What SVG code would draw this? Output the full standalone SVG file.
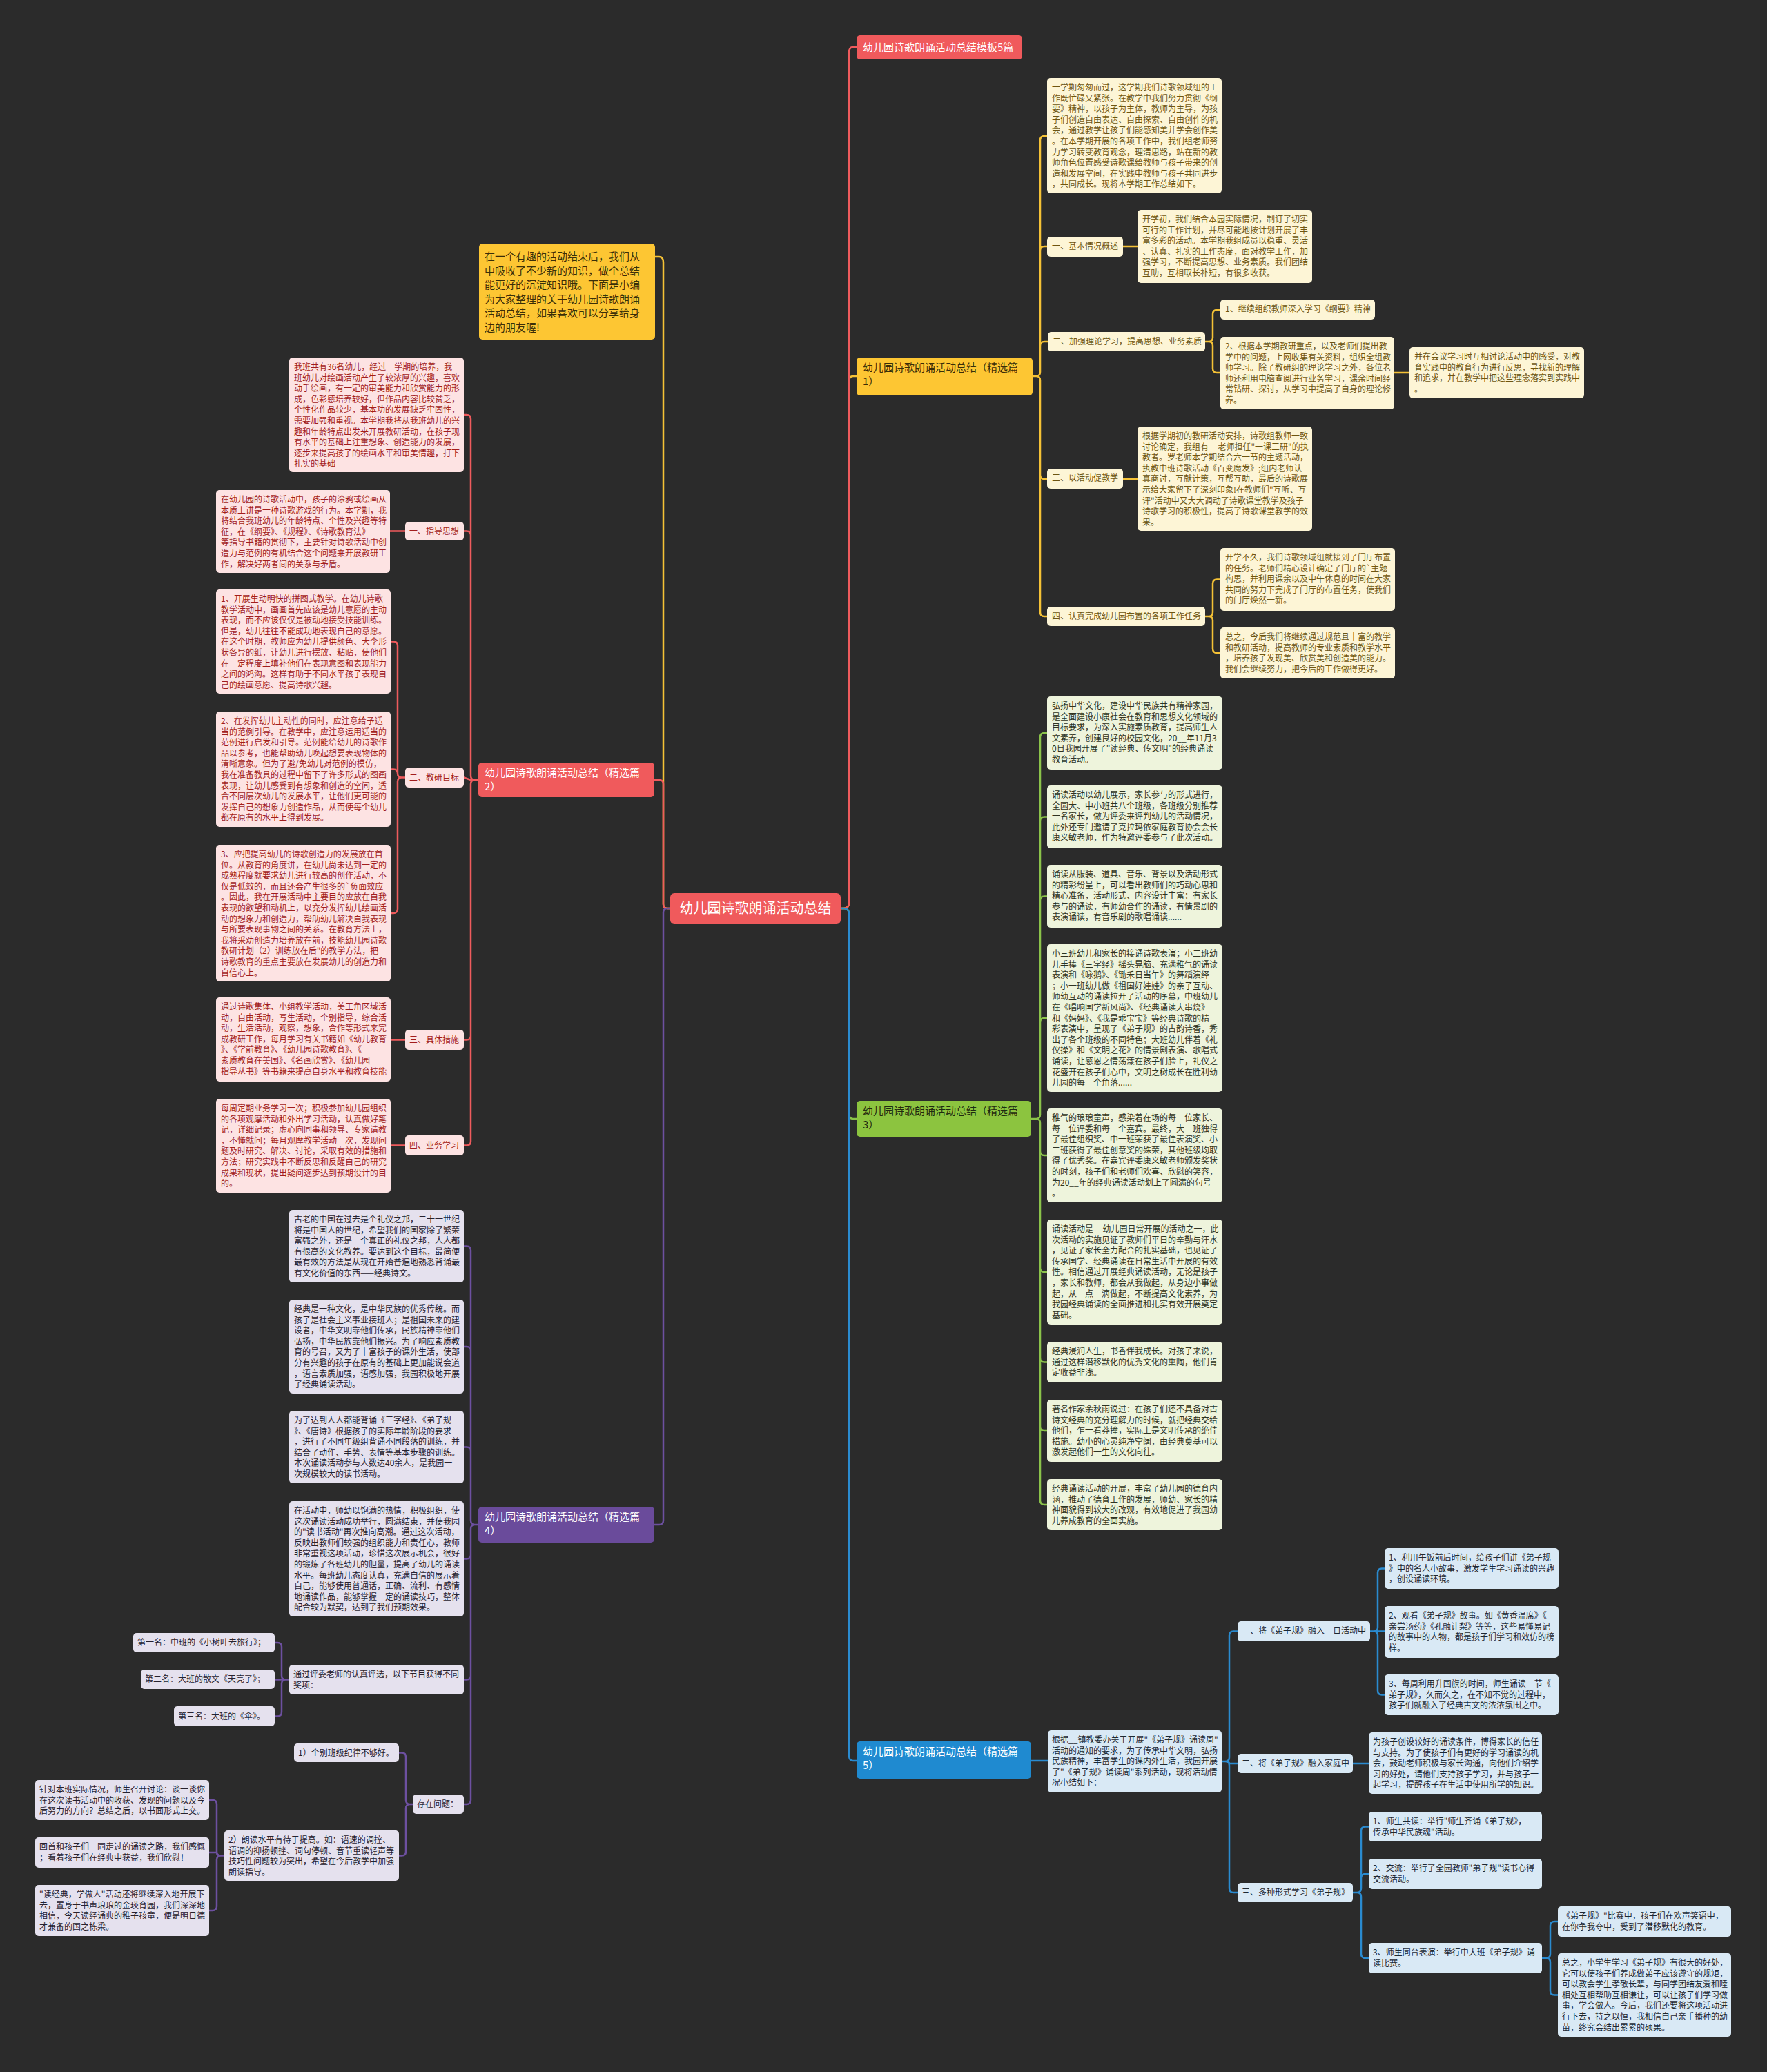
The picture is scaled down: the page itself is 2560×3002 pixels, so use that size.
<svg xmlns="http://www.w3.org/2000/svg" width="2560" height="3002" viewBox="0 0 2560 3002">
<style>
text{font-family:"Noto Sans CJK SC","Microsoft YaHei","Noto Sans",sans-serif;font-size:12px}
.cy rect{fill:#fdf5d6}.cy text{fill:#6e5512}
.cr rect{fill:#fde3e3}.cr text{fill:#a21d1d}
.cg rect{fill:#eef4dc}.cg text{fill:#2f3322}
.cb rect{fill:#d9e9f5}.cb text{fill:#1d2833}
.cp rect{fill:#e5e1ee}.cp text{fill:#27222f}
.br text{font-size:15px}
.ln{fill:none;stroke-width:2.5;stroke-linecap:round;stroke-linejoin:round}
.ly{stroke:#f5c236}.lr{stroke:#ef5b5d}.lg{stroke:#8bc34a}.lb{stroke:#2a8bd0}.lp{stroke:#6d50a0}
</style>
<rect width="2560" height="3002" fill="#2b2b2b"/>
<g id="connectors">
<path class="ln ly" d="M971,1316 H967 Q961,1316 961,1310 V380 Q961,372 955,372 H949"/>
<path class="ln lr" d="M971,1316 H967 Q961,1316 961,1310 V1136 Q961,1130 955,1130 H948"/>
<path class="ln lp" d="M971,1316 H967 Q961,1316 961,1322 V2203 Q961,2209 955,2209 H948"/>
<path class="ln ly" d="M1218,1316 H1222 Q1230,1316 1230,1308 V553 Q1230,545 1236,545 H1241"/>
<path class="ln lr" d="M1218,1316 H1222 Q1230,1316 1230,1308 V76 Q1230,68 1236,68 H1241"/>
<path class="ln lg" d="M1218,1316 H1222 Q1230,1316 1230,1324 V1613 Q1230,1621 1236,1621 H1241"/>
<path class="ln lb" d="M1218,1316 H1222 Q1230,1316 1230,1324 V2543 Q1230,2551 1236,2551 H1241"/>
<path class="ln ly" d="M1496,545 H1501 Q1507,545 1507,539 V203 Q1507,197 1513,197 H1517 M1496,545 H1501 Q1507,545 1507,539 V363 Q1507,357 1513,357 H1517 M1496,545 H1501 Q1507,545 1507,539 V501 Q1507,495 1513,495 H1518 M1496,545 H1501 Q1507,545 1507,551 V688 Q1507,694 1513,694 H1517 M1496,545 H1501 Q1507,545 1507,551 V887 Q1507,893 1513,893 H1517 M1627,357 H1648 M1746,495 H1751 Q1757,495 1757,489 V455 Q1757,449 1763,449 H1768 M1746,495 H1751 Q1757,495 1757,501 V534 Q1757,540 1763,540 H1768 M2020,540 H2042 M1627,694 H1648 M1746,893 H1751 Q1757,893 1757,887 V845.5 Q1757,839.5 1763,839.5 H1768 M1746,893 H1751 Q1757,893 1757,899 V940 Q1757,946 1763,946 H1768"/>
<path class="ln lg" d="M1494,1621 H1501 Q1507,1621 1507,1615 V1068 Q1507,1062 1513,1062 H1517 M1494,1621 H1501 Q1507,1621 1507,1615 V1189.5 Q1507,1183.5 1513,1183.5 H1517 M1494,1621 H1501 Q1507,1621 1507,1615 V1304.5 Q1507,1298.5 1513,1298.5 H1517 M1494,1621 H1501 Q1507,1621 1507,1615 V1481 Q1507,1475 1513,1475 H1517 M1494,1621 H1501 Q1507,1621 1507,1627 V1668 Q1507,1674 1513,1674 H1517 M1494,1621 H1501 Q1507,1621 1507,1627 V1837 Q1507,1843 1513,1843 H1517 M1494,1621 H1501 Q1507,1621 1507,1627 V1967.5 Q1507,1973.5 1513,1973.5 H1517 M1494,1621 H1501 Q1507,1621 1507,1627 V2067 Q1507,2073 1513,2073 H1517 M1494,1621 H1501 Q1507,1621 1507,1627 V2174 Q1507,2180 1513,2180 H1517"/>
<path class="ln lb" d="M1494,2551 H1518 M1770,2552 H1775 Q1781,2552 1781,2546 V2369.5 Q1781,2363.5 1787,2363.5 H1793 M1770,2552 H1775 Q1781,2552 1781,2555 H1793 M1770,2552 H1775 Q1781,2552 1781,2558 V2736 Q1781,2742 1787,2742 H1793 M1985,2363.5 H1990 Q1996,2363.5 1996,2357.5 V2278.5 Q1996,2272.5 2002,2272.5 H2006 M1985,2363.5 H2006 M1985,2363.5 H1990 Q1996,2363.5 1996,2369.5 V2449.5 Q1996,2455.5 2002,2455.5 H2006 M1960,2555 H1983 M1960,2742 H1966 Q1972,2742 1972,2736 V2652.5 Q1972,2646.5 1978,2646.5 H1983 M1960,2742 H1966 Q1972,2742 1972,2736 V2721 Q1972,2715 1978,2715 H1983 M1960,2742 H1966 Q1972,2742 1972,2748 V2831 Q1972,2837 1978,2837 H1983 M2234,2837 H2240 Q2246,2837 2246,2831 V2790 Q2246,2784 2252,2784 H2257 M2234,2837 H2240 Q2246,2837 2246,2843 V2884.5 Q2246,2890.5 2252,2890.5 H2257"/>
<path class="ln lr" d="M693,1130 H688 Q682,1130 682,1124 V607 Q682,601 676,601 H672 M693,1130 H688 Q682,1130 682,1124 V775.5 Q682,769.5 676,769.5 H672 M693,1130 H682 L672,1126.5 M693,1130 H688 Q682,1130 682,1136 V1500.5 Q682,1506.5 676,1506.5 H672 M693,1130 H688 Q682,1130 682,1136 V1653.5 Q682,1659.5 676,1659.5 H672 M587,769.5 H565 M587,1126.5 H582 Q576,1126.5 576,1120.5 V935.5 Q576,929.5 570,929.5 H566 M587,1126.5 H582 Q576,1126.5 576,1120.5 Q576,1114.5 570,1114.5 H566 M587,1126.5 H582 Q576,1126.5 576,1132.5 V1317 Q576,1323 570,1323 H566 M587,1506.5 H566 M587,1659.5 H566"/>
<path class="ln lp" d="M693,2209 H688 Q682,2209 682,2203 V1811.5 Q682,1805.5 676,1805.5 H672 M693,2209 H688 Q682,2209 682,2203 V1957 Q682,1951 676,1951 H672 M693,2209 H688 Q682,2209 682,2203 V2102.5 Q682,2096.5 676,2096.5 H672 M693,2209 H688 Q682,2209 682,2215 V2252.5 Q682,2258.5 676,2258.5 H672 M693,2209 H688 Q682,2209 682,2215 V2427.5 Q682,2433.5 676,2433.5 H672 M693,2209 H688 Q682,2209 682,2215 V2608 Q682,2614 676,2614 H672 M419,2433.5 H414 Q408,2433.5 408,2427.5 V2386 Q408,2380 402,2380 H398 M419,2433.5 H398 M419,2433.5 H414 Q408,2433.5 408,2439.5 V2480.5 Q408,2486.5 402,2486.5 H398 M598,2614 H594 Q588,2614 588,2608 V2545.5 Q588,2539.5 582,2539.5 H578 M598,2614 H594 Q588,2614 588,2620 V2682.5 Q588,2688.5 582,2688.5 H578 M325,2688.5 H320 Q314,2688.5 314,2682.5 V2614 Q314,2608 308,2608 H303 M325,2688.5 H320 Q314,2688.5 314,2684 H303 M325,2688.5 H320 Q314,2688.5 314,2694.5 V2762 Q314,2768 308,2768 H303"/>
</g>
<g id="center"><rect x="971" y="1294" width="247" height="45" rx="6" fill="#f05a5c"/><text x="1094.5" y="1323" text-anchor="middle" style="font-size:20px" fill="#ffffff">幼儿园诗歌朗诵活动总结</text></g>
<g id="b-top" class="br"><rect x="1241" y="51" width="240" height="35" rx="5" fill="#f05a5c"/><text x="1250" y="74" fill="#ffffff">幼儿园诗歌朗诵活动总结模板5篇</text></g>
<g id="b1" class="br"><rect x="1241" y="518" width="255" height="55" rx="5" fill="#fdc633"/><text x="1250" y="538" fill="#3a2e08"><tspan x="1250">幼儿园诗歌朗诵活动总结（精选篇</tspan><tspan x="1250" dy="20">1）</tspan></text></g>
<g id="b3" class="br"><rect x="1241" y="1595" width="253" height="52" rx="5" fill="#8cc43f"/><text x="1250" y="1615" fill="#1f2a10"><tspan x="1250">幼儿园诗歌朗诵活动总结（精选篇</tspan><tspan x="1250" dy="20">3）</tspan></text></g>
<g id="b5" class="br"><rect x="1241" y="2523" width="253" height="54" rx="5" fill="#1f8ad0"/><text x="1250" y="2543" fill="#ffffff"><tspan x="1250">幼儿园诗歌朗诵活动总结（精选篇</tspan><tspan x="1250" dy="20">5）</tspan></text></g>
<g id="b2" class="br"><rect x="693" y="1105" width="255" height="50" rx="5" fill="#f05a5c"/><text x="702" y="1125" fill="#ffffff"><tspan x="702">幼儿园诗歌朗诵活动总结（精选篇</tspan><tspan x="702" dy="20">2）</tspan></text></g>
<g id="b4" class="br"><rect x="693" y="2183" width="255" height="52" rx="5" fill="#6a4b9b"/><text x="702" y="2203" fill="#ffffff"><tspan x="702">幼儿园诗歌朗诵活动总结（精选篇</tspan><tspan x="702" dy="20">4）</tspan></text></g>
<g id="intro" class="br"><rect x="694" y="353" width="255" height="139" rx="5" fill="#fdc633"/><text x="702" y="377" fill="#3a2e08"><tspan x="702">在一个有趣的活动结束后，我们从</tspan><tspan x="702" dy="20.5">中吸收了不少新的知识，做个总结</tspan><tspan x="702" dy="20.5">能更好的沉淀知识哦。下面是小编</tspan><tspan x="702" dy="20.5">为大家整理的关于幼儿园诗歌朗诵</tspan><tspan x="702" dy="20.5">活动总结，如果喜欢可以分享给身</tspan><tspan x="702" dy="20.5">边的朋友喔!</tspan></text></g>
<g id="y1" class="cy"><rect x="1517" y="113" width="253" height="167" rx="5"/><text x="1524" y="131"><tspan x="1524">一学期匆匆而过，这学期我们诗歌领域组的工</tspan><tspan x="1524" dy="15.6">作既忙碌又紧张。在教学中我们努力贯彻《纲</tspan><tspan x="1524" dy="15.6">要》精神，以孩子为主体，教师为主导，为孩</tspan><tspan x="1524" dy="15.6">子们创造自由表达、自由探索、自由创作的机</tspan><tspan x="1524" dy="15.6">会，通过教学让孩子们能感知美并学会创作美</tspan><tspan x="1524" dy="15.6">。在本学期开展的各项工作中，我们组老师努</tspan><tspan x="1524" dy="15.6">力学习转变教育观念，理清思路，站在新的教</tspan><tspan x="1524" dy="15.6">师角色位置感受诗歌课给教师与孩子带来的创</tspan><tspan x="1524" dy="15.6">造和发展空间，在实践中教师与孩子共同进步</tspan><tspan x="1524" dy="15.6">，共同成长。现将本学期工作总结如下。</tspan></text></g>
<g id="y2" class="cy"><rect x="1517" y="343" width="110" height="29" rx="5"/><text x="1524" y="361">一、基本情况概述</text></g>
<g id="y3" class="cy"><rect x="1648" y="304" width="253" height="106" rx="5"/><text x="1655" y="322"><tspan x="1655">开学初，我们结合本园实际情况，制订了切实</tspan><tspan x="1655" dy="15.6">可行的工作计划，并尽可能地按计划开展了丰</tspan><tspan x="1655" dy="15.6">富多彩的活动。本学期我组成员以稳重、灵活</tspan><tspan x="1655" dy="15.6">、认真、扎实的工作态度，面对教学工作，加</tspan><tspan x="1655" dy="15.6">强学习，不断提高思想、业务素质。我们团结</tspan><tspan x="1655" dy="15.6">互助，互相取长补短，有很多收获。</tspan></text></g>
<g id="y4" class="cy"><rect x="1518" y="481" width="228" height="28" rx="5"/><text x="1525" y="499">二、加强理论学习，提高思想、业务素质</text></g>
<g id="y5" class="cy"><rect x="1768" y="434" width="224" height="29" rx="5"/><text x="1775" y="452">1、继续组织教师深入学习《纲要》精神</text></g>
<g id="y6" class="cy"><rect x="1768" y="488" width="252" height="105" rx="5"/><text x="1775" y="506"><tspan x="1775">2、根据本学期教研重点，以及老师们提出教</tspan><tspan x="1775" dy="15.6">学中的问题，上网收集有关资料，组织全组教</tspan><tspan x="1775" dy="15.6">师学习。除了教研组的理论学习之外，各位老</tspan><tspan x="1775" dy="15.6">师还利用电脑查阅进行业务学习，课余时间经</tspan><tspan x="1775" dy="15.6">常钻研、探讨，从学习中提高了自身的理论修</tspan><tspan x="1775" dy="15.6">养。</tspan></text></g>
<g id="y7" class="cy"><rect x="2042" y="503" width="253" height="74" rx="5"/><text x="2049" y="521"><tspan x="2049">并在会议学习时互相讨论活动中的感受，对教</tspan><tspan x="2049" dy="15.6">育实践中的教育行为进行反思，寻找新的理解</tspan><tspan x="2049" dy="15.6">和追求，并在教学中把这些理念落实到实践中</tspan><tspan x="2049" dy="15.6">。</tspan></text></g>
<g id="y8" class="cy"><rect x="1517" y="679" width="110" height="29" rx="5"/><text x="1524" y="697">三、以活动促教学</text></g>
<g id="y9" class="cy"><rect x="1648" y="618" width="253" height="151" rx="5"/><text x="1655" y="636"><tspan x="1655">根据学期初的教研活动安排，诗歌组教师一致</tspan><tspan x="1655" dy="15.6">讨论确定，我组有__老师担任"一课三研"的执</tspan><tspan x="1655" dy="15.6">教者。罗老师本学期结合六一节的主题活动，</tspan><tspan x="1655" dy="15.6">执教中班诗歌活动《百变魔发》;组内老师认</tspan><tspan x="1655" dy="15.6">真商讨，互献计策，互帮互助，最后的诗歌展</tspan><tspan x="1655" dy="15.6">示给大家留下了深刻印象!在教师们"互听、互</tspan><tspan x="1655" dy="15.6">评"活动中又大大调动了诗歌课堂教学及孩子</tspan><tspan x="1655" dy="15.6">诗歌学习的积极性，提高了诗歌课堂教学的效</tspan><tspan x="1655" dy="15.6">果。</tspan></text></g>
<g id="y10" class="cy"><rect x="1517" y="879" width="229" height="28" rx="5"/><text x="1524" y="897">四、认真完成幼儿园布置的各项工作任务</text></g>
<g id="y11" class="cy"><rect x="1768" y="794" width="253" height="91" rx="5"/><text x="1775" y="812"><tspan x="1775">开学不久，我们诗歌领域组就接到了门厅布置</tspan><tspan x="1775" dy="15.6">的任务。老师们精心设计确定了门厅的`主题</tspan><tspan x="1775" dy="15.6">构思，并利用课余以及中午休息的时间在大家</tspan><tspan x="1775" dy="15.6">共同的努力下完成了门厅的布置任务，使我们</tspan><tspan x="1775" dy="15.6">的门厅焕然一新。</tspan></text></g>
<g id="y12" class="cy"><rect x="1768" y="909" width="253" height="74" rx="5"/><text x="1775" y="927"><tspan x="1775">总之，今后我们将继续通过规范且丰富的教学</tspan><tspan x="1775" dy="15.6">和教研活动，提高教师的专业素质和教学水平</tspan><tspan x="1775" dy="15.6">，培养孩子发现美、欣赏美和创造美的能力。</tspan><tspan x="1775" dy="15.6">我们会继续努力，把今后的工作做得更好。</tspan></text></g>
<g id="g1" class="cg"><rect x="1517" y="1009" width="254" height="106" rx="5"/><text x="1524" y="1027"><tspan x="1524">弘扬中华文化，建设中华民族共有精神家园，</tspan><tspan x="1524" dy="15.6">是全面建设小康社会在教育和思想文化领域的</tspan><tspan x="1524" dy="15.6">目标要求，为深入实施素质教育，提高师生人</tspan><tspan x="1524" dy="15.6">文素养，创建良好的校园文化，20__年11月3</tspan><tspan x="1524" dy="15.6">0日我园开展了"读经典、传文明"的经典诵读</tspan><tspan x="1524" dy="15.6">教育活动。</tspan></text></g>
<g id="g2" class="cg"><rect x="1517" y="1138" width="254" height="91" rx="5"/><text x="1524" y="1156"><tspan x="1524">诵读活动以幼儿展示，家长参与的形式进行，</tspan><tspan x="1524" dy="15.6">全园大、中小班共八个班级，各班级分别推荐</tspan><tspan x="1524" dy="15.6">一名家长，做为评委来评判幼儿的活动情况，</tspan><tspan x="1524" dy="15.6">此外还专门邀请了克拉玛依家庭教育协会会长</tspan><tspan x="1524" dy="15.6">康义敏老师，作为特邀评委参与了此次活动。</tspan></text></g>
<g id="g3" class="cg"><rect x="1517" y="1253" width="254" height="91" rx="5"/><text x="1524" y="1271"><tspan x="1524">诵读从服装、道具、音乐、背景以及活动形式</tspan><tspan x="1524" dy="15.6">的精彩纷呈上，可以看出教师们的巧动心思和</tspan><tspan x="1524" dy="15.6">精心准备，活动形式、内容设计丰富：有家长</tspan><tspan x="1524" dy="15.6">参与的诵读，有师幼合作的诵读，有情景剧的</tspan><tspan x="1524" dy="15.6">表演诵读，有音乐剧的歌唱诵读......</tspan></text></g>
<g id="g4" class="cg"><rect x="1517" y="1368" width="254" height="214" rx="5"/><text x="1524" y="1386"><tspan x="1524">小三班幼儿和家长的接诵诗歌表演；小二班幼</tspan><tspan x="1524" dy="15.6">儿手捧《三字经》摇头晃脑、充满稚气的诵读</tspan><tspan x="1524" dy="15.6">表演和《咏鹅》、《锄禾日当午》的舞蹈演绎</tspan><tspan x="1524" dy="15.6">；小一班幼儿做《祖国好娃娃》的亲子互动、</tspan><tspan x="1524" dy="15.6">师幼互动的诵读拉开了活动的序幕，中班幼儿</tspan><tspan x="1524" dy="15.6">在《唱响国学新风尚》、《经典诵读大串烧》</tspan><tspan x="1524" dy="15.6">和《妈妈》、《我是乖宝宝》等经典诗歌的精</tspan><tspan x="1524" dy="15.6">彩表演中，呈现了《弟子规》的古韵诗香，秀</tspan><tspan x="1524" dy="15.6">出了各个班级的不同特色；大班幼儿伴着《礼</tspan><tspan x="1524" dy="15.6">仪操》和《文明之花》的情景剧表演、歌唱式</tspan><tspan x="1524" dy="15.6">诵读，让感恩之情荡漾在孩子们脸上，礼仪之</tspan><tspan x="1524" dy="15.6">花盛开在孩子们心中，文明之树成长在胜利幼</tspan><tspan x="1524" dy="15.6">儿园的每一个角落......</tspan></text></g>
<g id="g5" class="cg"><rect x="1517" y="1606" width="254" height="136" rx="5"/><text x="1524" y="1624"><tspan x="1524">稚气的琅琅童声，感染着在场的每一位家长、</tspan><tspan x="1524" dy="15.6">每一位评委和每一个嘉宾。最终，大一班独得</tspan><tspan x="1524" dy="15.6">了最佳组织奖、中一班荣获了最佳表演奖、小</tspan><tspan x="1524" dy="15.6">二班获得了最佳创意奖的殊荣，其他班级均取</tspan><tspan x="1524" dy="15.6">得了优秀奖。在嘉宾评委康义敏老师颁发奖状</tspan><tspan x="1524" dy="15.6">的时刻，孩子们和老师们欢喜、欣慰的笑容，</tspan><tspan x="1524" dy="15.6">为20__年的经典诵读活动划上了圆满的句号</tspan><tspan x="1524" dy="15.6">。</tspan></text></g>
<g id="g6" class="cg"><rect x="1517" y="1767" width="254" height="152" rx="5"/><text x="1524" y="1785"><tspan x="1524">诵读活动是__幼儿园日常开展的活动之一，此</tspan><tspan x="1524" dy="15.6">次活动的实施见证了教师们平日的辛勤与汗水</tspan><tspan x="1524" dy="15.6">，见证了家长全力配合的扎实基础，也见证了</tspan><tspan x="1524" dy="15.6">传承国学、经典诵读在日常生活中开展的有效</tspan><tspan x="1524" dy="15.6">性。相信通过开展经典诵读活动，无论是孩子</tspan><tspan x="1524" dy="15.6">，家长和教师，都会从我做起，从身边小事做</tspan><tspan x="1524" dy="15.6">起，从一点一滴做起，不断提高文化素养，为</tspan><tspan x="1524" dy="15.6">我园经典诵读的全面推进和扎实有效开展奠定</tspan><tspan x="1524" dy="15.6">基础。</tspan></text></g>
<g id="g7" class="cg"><rect x="1517" y="1944" width="254" height="59" rx="5"/><text x="1524" y="1962"><tspan x="1524">经典浸润人生，书香伴我成长。对孩子来说，</tspan><tspan x="1524" dy="15.6">通过这样潜移默化的优秀文化的熏陶，他们肯</tspan><tspan x="1524" dy="15.6">定收益非浅。</tspan></text></g>
<g id="g8" class="cg"><rect x="1517" y="2028" width="254" height="90" rx="5"/><text x="1524" y="2046"><tspan x="1524">著名作家余秋雨说过：在孩子们还不具备对古</tspan><tspan x="1524" dy="15.6">诗文经典的充分理解力的时候，就把经典交给</tspan><tspan x="1524" dy="15.6">他们，乍一看莽撞，实际上是文明传承的绝佳</tspan><tspan x="1524" dy="15.6">措施。幼小的心灵纯净空阔，由经典奠基可以</tspan><tspan x="1524" dy="15.6">激发起他们一生的文化向往。</tspan></text></g>
<g id="g9" class="cg"><rect x="1517" y="2143" width="254" height="74" rx="5"/><text x="1524" y="2161"><tspan x="1524">经典诵读活动的开展，丰富了幼儿园的德育内</tspan><tspan x="1524" dy="15.6">涵，推动了德育工作的发展，师幼、家长的精</tspan><tspan x="1524" dy="15.6">神面貌得到较大的改观，有效地促进了我园幼</tspan><tspan x="1524" dy="15.6">儿养成教育的全面实施。</tspan></text></g>
<g id="bl1" class="cb"><rect x="1518" y="2507" width="252" height="90" rx="5"/><text x="1524" y="2525"><tspan x="1524">根据__镇教委办关于开展"《弟子规》诵读周"</tspan><tspan x="1524" dy="15.6">活动的通知的要求，为了传承中华文明，弘扬</tspan><tspan x="1524" dy="15.6">民族精神，丰富学生的课内外生活，我园开展</tspan><tspan x="1524" dy="15.6">了"《弟子规》诵读周"系列活动，现将活动情</tspan><tspan x="1524" dy="15.6">况小结如下：</tspan></text></g>
<g id="bl2" class="cb"><rect x="1793" y="2349" width="192" height="29" rx="5"/><text x="1799" y="2367">一、将《弟子规》融入一日活动中</text></g>
<g id="bl3" class="cb"><rect x="2006" y="2243" width="252" height="59" rx="5"/><text x="2012" y="2261"><tspan x="2012">1、利用午饭前后时间，给孩子们讲《弟子规</tspan><tspan x="2012" dy="15.6">》中的名人小故事，激发学生学习诵读的兴趣</tspan><tspan x="2012" dy="15.6">，创设诵读环境。</tspan></text></g>
<g id="bl4" class="cb"><rect x="2006" y="2327" width="252" height="75" rx="5"/><text x="2012" y="2345"><tspan x="2012">2、观看《弟子规》故事。如《黄香温席》《</tspan><tspan x="2012" dy="15.6">亲尝汤药》《孔融让梨》等等，这些易懂易记</tspan><tspan x="2012" dy="15.6">的故事中的人物，都是孩子们学习和效仿的榜</tspan><tspan x="2012" dy="15.6">样。</tspan></text></g>
<g id="bl5" class="cb"><rect x="2006" y="2426" width="252" height="59" rx="5"/><text x="2012" y="2444"><tspan x="2012">3、每周利用升国旗的时间，师生诵读一节《</tspan><tspan x="2012" dy="15.6">弟子规》，久而久之，在不知不觉的过程中，</tspan><tspan x="2012" dy="15.6">孩子们就融入了经典古文的浓浓氛围之中。</tspan></text></g>
<g id="bl6" class="cb"><rect x="1793" y="2541" width="167" height="28" rx="5"/><text x="1799" y="2559">二、将《弟子规》融入家庭中</text></g>
<g id="bl7" class="cb"><rect x="1983" y="2510" width="251" height="89" rx="5"/><text x="1989" y="2528"><tspan x="1989">为孩子创设较好的诵读条件，博得家长的信任</tspan><tspan x="1989" dy="15.6">与支持。为了使孩子们有更好的学习诵读的机</tspan><tspan x="1989" dy="15.6">会，鼓动老师积极与家长沟通，向他们介绍学</tspan><tspan x="1989" dy="15.6">习的好处，请他们支持孩子学习，并与孩子一</tspan><tspan x="1989" dy="15.6">起学习，提醒孩子在生活中使用所学的知识。</tspan></text></g>
<g id="bl8" class="cb"><rect x="1793" y="2728" width="167" height="28" rx="5"/><text x="1799" y="2746">三、多种形式学习《弟子规》</text></g>
<g id="bl9" class="cb"><rect x="1983" y="2625" width="251" height="43" rx="5"/><text x="1989" y="2643"><tspan x="1989">1、师生共读：举行"师生齐诵《弟子规》，</tspan><tspan x="1989" dy="15.6">传承中华民族魂"活动。</tspan></text></g>
<g id="bl10" class="cb"><rect x="1983" y="2693" width="251" height="44" rx="5"/><text x="1989" y="2711"><tspan x="1989">2、交流：举行了全园教师"弟子规"读书心得</tspan><tspan x="1989" dy="15.6">交流活动。</tspan></text></g>
<g id="bl11" class="cb"><rect x="1983" y="2815" width="251" height="44" rx="5"/><text x="1989" y="2833"><tspan x="1989">3、师生同台表演：举行中大班《弟子规》诵</tspan><tspan x="1989" dy="15.6">读比赛。</tspan></text></g>
<g id="bl12" class="cb"><rect x="2257" y="2762" width="251" height="44" rx="5"/><text x="2263" y="2780"><tspan x="2263">《弟子规》"比赛中，孩子们在欢声笑语中，</tspan><tspan x="2263" dy="15.6">在你争我夺中，受到了潜移默化的教育。</tspan></text></g>
<g id="bl13" class="cb"><rect x="2257" y="2830" width="251" height="121" rx="5"/><text x="2263" y="2848"><tspan x="2263">总之，小学生学习《弟子规》有很大的好处，</tspan><tspan x="2263" dy="15.6">它可以使孩子们养成做弟子应该遵守的规矩，</tspan><tspan x="2263" dy="15.6">可以教会学生孝敬长辈，与同学团结友爱和睦</tspan><tspan x="2263" dy="15.6">相处互相帮助互相谦让，可以让孩子们学习做</tspan><tspan x="2263" dy="15.6">事，学会做人。今后，我们还要将这项活动进</tspan><tspan x="2263" dy="15.6">行下去，持之以恒，我相信自己亲手播种的幼</tspan><tspan x="2263" dy="15.6">苗，终究会结出累累的硕果。</tspan></text></g>
<g id="r1" class="cr"><rect x="419" y="518" width="253" height="166" rx="5"/><text x="426" y="536"><tspan x="426">我班共有36名幼儿，经过一学期的培养，我</tspan><tspan x="426" dy="15.6">班幼儿对绘画活动产生了较浓厚的兴趣，喜欢</tspan><tspan x="426" dy="15.6">动手绘画，有一定的审美能力和欣赏能力的形</tspan><tspan x="426" dy="15.6">成，色彩感培养较好，但作品内容比较贫乏，</tspan><tspan x="426" dy="15.6">个性化作品较少，基本功的发展缺乏牢固性，</tspan><tspan x="426" dy="15.6">需要加强和重视。本学期我将从我班幼儿的兴</tspan><tspan x="426" dy="15.6">趣和年龄特点出发来开展教研活动，在孩子现</tspan><tspan x="426" dy="15.6">有水平的基础上注重想象、创造能力的发展，</tspan><tspan x="426" dy="15.6">逐步来提高孩子的绘画水平和审美情趣，打下</tspan><tspan x="426" dy="15.6">扎实的基础</tspan></text></g>
<g id="r2" class="cr"><rect x="587" y="756" width="85" height="27" rx="5"/><text x="593" y="774">一、指导思想</text></g>
<g id="r3" class="cr"><rect x="313" y="710" width="252" height="120" rx="5"/><text x="320" y="728"><tspan x="320">在幼儿园的诗歌活动中，孩子的涂鸦或绘画从</tspan><tspan x="320" dy="15.6">本质上讲是一种诗歌游戏的行为。本学期，我</tspan><tspan x="320" dy="15.6">将结合我班幼儿的年龄特点、个性及兴趣等特</tspan><tspan x="320" dy="15.6">征，在《纲要》、《规程》、《诗歌教育法》</tspan><tspan x="320" dy="15.6">等指导书籍的贯彻下，主要针对诗歌活动中创</tspan><tspan x="320" dy="15.6">造力与范例的有机结合这个问题来开展教研工</tspan><tspan x="320" dy="15.6">作，解决好两者间的关系与矛盾。</tspan></text></g>
<g id="r4" class="cr"><rect x="313" y="854" width="253" height="151" rx="5"/><text x="320" y="872"><tspan x="320">1、开展生动明快的拼图式教学。在幼儿诗歌</tspan><tspan x="320" dy="15.6">教学活动中，画画首先应该是幼儿意愿的主动</tspan><tspan x="320" dy="15.6">表现，而不应该仅仅是被动地接受技能训练。</tspan><tspan x="320" dy="15.6">但是，幼儿往往不能成功地表现自己的意愿。</tspan><tspan x="320" dy="15.6">在这个时期，教师应为幼儿提供颜色、大李形</tspan><tspan x="320" dy="15.6">状各异的纸，让幼儿进行摆放、粘贴，使他们</tspan><tspan x="320" dy="15.6">在一定程度上填补他们在表现意图和表现能力</tspan><tspan x="320" dy="15.6">之间的鸿沟。这样有助于不同水平孩子表现自</tspan><tspan x="320" dy="15.6">己的绘画意愿、提高诗歌兴趣。</tspan></text></g>
<g id="r5" class="cr"><rect x="587" y="1112" width="85" height="29" rx="5"/><text x="593" y="1131">二、教研目标</text></g>
<g id="r6" class="cr"><rect x="313" y="1031" width="253" height="167" rx="5"/><text x="320" y="1049"><tspan x="320">2、在发挥幼儿主动性的同时，应注意给予适</tspan><tspan x="320" dy="15.6">当的范例引导。在教学中，应注意运用适当的</tspan><tspan x="320" dy="15.6">范例进行启发和引导。范例能给幼儿的诗歌作</tspan><tspan x="320" dy="15.6">品以参考，也能帮助幼儿唤起想要表现物体的</tspan><tspan x="320" dy="15.6">清晰意象。但为了避/免幼儿对范例的模仿，</tspan><tspan x="320" dy="15.6">我在准备教具的过程中留下了许多形式的图画</tspan><tspan x="320" dy="15.6">表现，让幼儿感受到有想象和创造的空间，适</tspan><tspan x="320" dy="15.6">合不同层次幼儿的发展水平，让他们更可能的</tspan><tspan x="320" dy="15.6">发挥自己的想象力创造作品，从而使每个幼儿</tspan><tspan x="320" dy="15.6">都在原有的水平上得到发展。</tspan></text></g>
<g id="r7" class="cr"><rect x="313" y="1224" width="253" height="198" rx="5"/><text x="320" y="1242"><tspan x="320">3、应把提高幼儿的诗歌创造力的发展放在首</tspan><tspan x="320" dy="15.6">位。从教育的角度讲，在幼儿尚未达到一定的</tspan><tspan x="320" dy="15.6">成熟程度就要求幼儿进行较高的创作活动，不</tspan><tspan x="320" dy="15.6">仅是低效的，而且还会产生很多的`负面效应</tspan><tspan x="320" dy="15.6">。因此，我在开展活动中主要目的应放在自我</tspan><tspan x="320" dy="15.6">表现的欲望和动机上，以充分发挥幼儿绘画活</tspan><tspan x="320" dy="15.6">动的想象力和创造力，帮助幼儿解决自我表现</tspan><tspan x="320" dy="15.6">与所要表现事物之间的关系。在教育方法上，</tspan><tspan x="320" dy="15.6">我将采劝创造力培养放在前，技能幼儿园诗歌</tspan><tspan x="320" dy="15.6">教研计划（2）训练放在后"的教学方法，把</tspan><tspan x="320" dy="15.6">诗歌教育的重点主要放在发展幼儿的创造力和</tspan><tspan x="320" dy="15.6">自信心上。</tspan></text></g>
<g id="r8" class="cr"><rect x="313" y="1445" width="253" height="122" rx="5"/><text x="320" y="1463"><tspan x="320">通过诗歌集体、小组教学活动，美工角区域活</tspan><tspan x="320" dy="15.6">动，自由活动，写生活动，个别指导，综合活</tspan><tspan x="320" dy="15.6">动，生活活动，观察，想象，合作等形式来完</tspan><tspan x="320" dy="15.6">成教研工作，每月学习有关书籍如《幼儿教育</tspan><tspan x="320" dy="15.6">》、《学前教育》、《幼儿园诗歌教育》、《</tspan><tspan x="320" dy="15.6">素质教育在美国》、《名画欣赏》、《幼儿园</tspan><tspan x="320" dy="15.6">指导丛书》等书籍来提高自身水平和教育技能</tspan></text></g>
<g id="r9" class="cr"><rect x="587" y="1492" width="85" height="29" rx="5"/><text x="593" y="1511">三、具体措施</text></g>
<g id="r10" class="cr"><rect x="313" y="1592" width="253" height="136" rx="5"/><text x="320" y="1610"><tspan x="320">每周定期业务学习一次；积极参加幼儿园组织</tspan><tspan x="320" dy="15.6">的各项观摩活动和外出学习活动，认真做好笔</tspan><tspan x="320" dy="15.6">记，详细记录；虚心向同事和领导、专家请教</tspan><tspan x="320" dy="15.6">，不懂就问；每月观摩教学活动一次，发现问</tspan><tspan x="320" dy="15.6">题及时研究、解决、讨论，采取有效的措施和</tspan><tspan x="320" dy="15.6">方法；研究实践中不断反思和反醒自己的研究</tspan><tspan x="320" dy="15.6">成果和现状，提出疑问逐步达到预期设计的目</tspan><tspan x="320" dy="15.6">的。</tspan></text></g>
<g id="r11" class="cr"><rect x="587" y="1645" width="85" height="29" rx="5"/><text x="593" y="1664">四、业务学习</text></g>
<g id="p1" class="cp"><rect x="419" y="1753" width="253" height="105" rx="5"/><text x="426" y="1771"><tspan x="426">古老的中国在过去是个礼仪之邦，二十一世纪</tspan><tspan x="426" dy="15.6">将是中国人的世纪，希望我们的国家除了繁荣</tspan><tspan x="426" dy="15.6">富强之外，还是一个真正的礼仪之邦，人人都</tspan><tspan x="426" dy="15.6">有很高的文化教养。要达到这个目标，最简便</tspan><tspan x="426" dy="15.6">最有效的方法是从现在开始普遍地熟悉背诵最</tspan><tspan x="426" dy="15.6">有文化价值的东西——经典诗文。</tspan></text></g>
<g id="p2" class="cp"><rect x="419" y="1883" width="253" height="136" rx="5"/><text x="426" y="1901"><tspan x="426">经典是一种文化，是中华民族的优秀传统。而</tspan><tspan x="426" dy="15.6">孩子是社会主义事业接班人；是祖国未来的建</tspan><tspan x="426" dy="15.6">设者，中华文明靠他们传承，民族精神靠他们</tspan><tspan x="426" dy="15.6">弘扬，中华民族靠他们振兴。为了响应素质教</tspan><tspan x="426" dy="15.6">育的号召，又为了丰富孩子的课外生活，使部</tspan><tspan x="426" dy="15.6">分有兴趣的孩子在原有的基础上更加能说会道</tspan><tspan x="426" dy="15.6">，语言素质加强，语感加强，我园积极地开展</tspan><tspan x="426" dy="15.6">了经典诵读活动。</tspan></text></g>
<g id="p3" class="cp"><rect x="419" y="2044" width="253" height="105" rx="5"/><text x="426" y="2062"><tspan x="426">为了达到人人都能背诵《三字经》、《弟子规</tspan><tspan x="426" dy="15.6">》、《唐诗》根据孩子的实际年龄阶段的要求</tspan><tspan x="426" dy="15.6">，进行了不同年级组背诵不同段落的训练，并</tspan><tspan x="426" dy="15.6">结合了动作、手势、表情等基本步骤的训练。</tspan><tspan x="426" dy="15.6">本次诵读活动参与人数达40余人，是我园一</tspan><tspan x="426" dy="15.6">次规模较大的读书活动。</tspan></text></g>
<g id="p4" class="cp"><rect x="419" y="2175" width="253" height="167" rx="5"/><text x="426" y="2193"><tspan x="426">在活动中，师幼以饱满的热情，积极组织，使</tspan><tspan x="426" dy="15.6">这次诵读活动成功举行，圆满结束，并使我园</tspan><tspan x="426" dy="15.6">的"读书活动"再次推向高潮。通过这次活动，</tspan><tspan x="426" dy="15.6">反映出教师们较强的组织能力和责任心，教师</tspan><tspan x="426" dy="15.6">非常重视这项活动，珍惜这次展示机会，很好</tspan><tspan x="426" dy="15.6">的锻炼了各班幼儿的胆量，提高了幼儿的诵读</tspan><tspan x="426" dy="15.6">水平。每班幼儿态度认真，充满自信的展示着</tspan><tspan x="426" dy="15.6">自己，能够使用普通话，正确、流利、有感情</tspan><tspan x="426" dy="15.6">地诵读作品，能够掌握一定的诵读技巧，整体</tspan><tspan x="426" dy="15.6">配合较为默契，达到了我们预期效果。</tspan></text></g>
<g id="p5" class="cp"><rect x="419" y="2412" width="253" height="43" rx="5"/><text x="425" y="2430"><tspan x="425">通过评委老师的认真评选，以下节目获得不同</tspan><tspan x="425" dy="15.6">奖项：</tspan></text></g>
<g id="p6" class="cp"><rect x="193" y="2366" width="205" height="28" rx="5"/><text x="199" y="2384">第一名：中班的《小树叶去旅行》；</text></g>
<g id="p7" class="cp"><rect x="204" y="2419" width="194" height="28" rx="5"/><text x="210" y="2437">第二名：大班的散文《天亮了》；</text></g>
<g id="p8" class="cp"><rect x="252" y="2472" width="146" height="29" rx="5"/><text x="258" y="2491">第三名：大班的《伞》。</text></g>
<g id="p9" class="cp"><rect x="598" y="2600" width="74" height="28" rx="5"/><text x="604" y="2618">存在问题：</text></g>
<g id="p10" class="cp"><rect x="426" y="2526" width="152" height="27" rx="5"/><text x="432" y="2544">1）个别班级纪律不够好。</text></g>
<g id="p11" class="cp"><rect x="325" y="2652" width="253" height="73" rx="5"/><text x="331" y="2670"><tspan x="331">2）朗读水平有待于提高。如：语速的调控、</tspan><tspan x="331" dy="15.6">语调的抑扬顿挫、词句停顿、音节重读轻声等</tspan><tspan x="331" dy="15.6">技巧性问题较为突出，希望在今后教学中加强</tspan><tspan x="331" dy="15.6">朗读指导。</tspan></text></g>
<g id="p12" class="cp"><rect x="51" y="2579" width="252" height="58" rx="5"/><text x="57" y="2597"><tspan x="57">针对本班实际情况，师生召开讨论：谈一谈你</tspan><tspan x="57" dy="15.6">在这次读书活动中的收获、发现的问题以及今</tspan><tspan x="57" dy="15.6">后努力的方向？总结之后，以书面形式上交。</tspan></text></g>
<g id="p13" class="cp"><rect x="51" y="2662" width="252" height="44" rx="5"/><text x="57" y="2680"><tspan x="57">回首和孩子们一同走过的诵读之路，我们感慨</tspan><tspan x="57" dy="15.6">；看着孩子们在经典中获益，我们欣慰！</tspan></text></g>
<g id="p14" class="cp"><rect x="51" y="2731" width="252" height="74" rx="5"/><text x="57" y="2749"><tspan x="57">"读经典，学做人"活动还将继续深入地开展下</tspan><tspan x="57" dy="15.6">去，置身于书声琅琅的金瑛育园，我们深深地</tspan><tspan x="57" dy="15.6">相信，今天读经诵典的稚子孩童，便是明日德</tspan><tspan x="57" dy="15.6">才兼备的国之栋梁。</tspan></text></g>
</svg>
